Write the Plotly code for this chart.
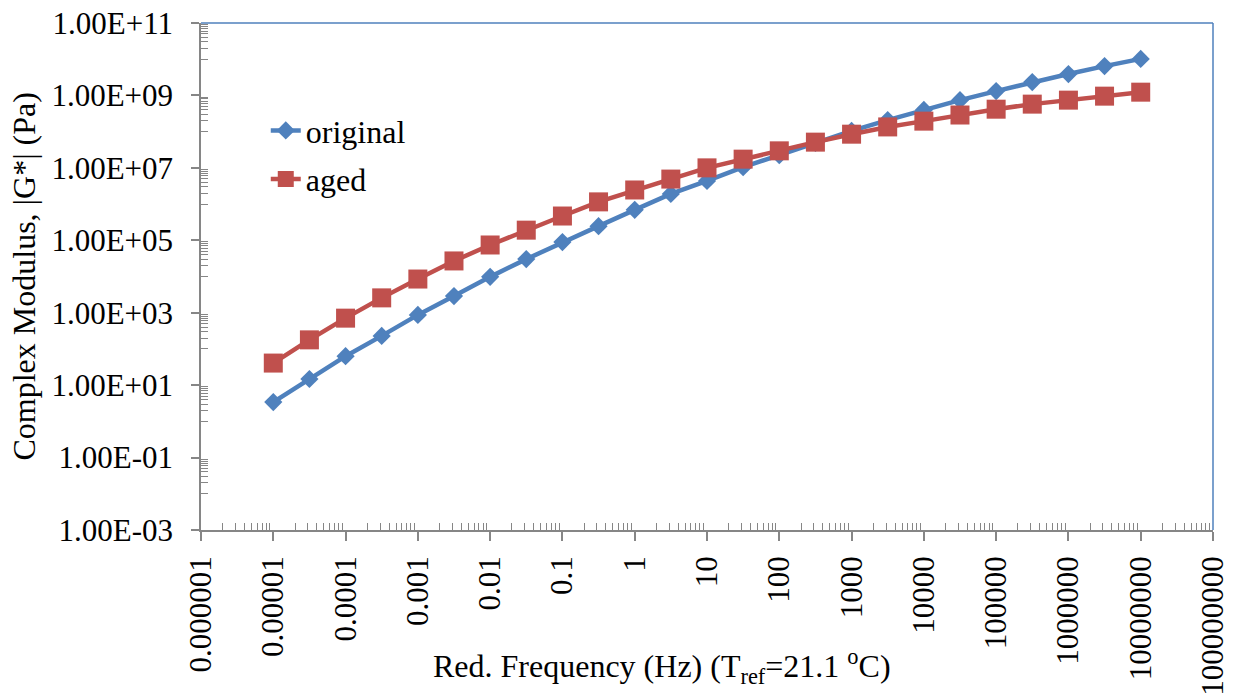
import plotly.graph_objects as go

# Reduced frequency (Hz)
freq = [1e-5, 3.16e-5, 1e-4, 3.16e-4, 1e-3, 3.16e-3, 1e-2, 3.16e-2, 1e-1, 3.16e-1,
        1, 3.16, 10, 31.6, 100, 316, 1000, 3160, 1e4, 3.16e4, 1e5, 3.16e5, 1e6, 3.16e6, 1e7]

# Complex modulus |G*| (Pa)
original = [3.4, 14.8, 63, 229, 871, 2884, 9772, 30200, 89125, 245470,
            691830, 1.905e6, 4.37e6, 1.047e7, 2.24e7, 4.9e7, 1.05e8, 2.09e8, 3.98e8, 7.4e8,
            1.32e9, 2.34e9, 3.89e9, 6.46e9, 1.02e10]
aged = [40.7, 178, 708, 2570, 8511, 26900, 74130, 190550, 467700, 1.15e6,
        2.45e6, 4.9e6, 1.0e7, 1.74e7, 2.95e7, 5.13e7, 8.51e7, 1.35e8, 1.95e8, 2.88e8,
        4.17e8, 5.75e8, 7.41e8, 9.55e8, 1.23e9]

x_tickvals = [1e-6, 1e-5, 1e-4, 1e-3, 1e-2, 1e-1, 1, 10, 100, 1e3, 1e4, 1e5, 1e6, 1e7, 1e8]
x_ticktext = ["0.000001", "0.00001", "0.0001", "0.001", "0.01", "0.1", "1", "10", "100",
              "1000", "10000", "100000", "1000000", "10000000", "100000000"]
y_tickvals = [1e-3, 1e-1, 1e1, 1e3, 1e5, 1e7, 1e9, 1e11]
y_ticktext = ["1.00E-03", "1.00E-01", "1.00E+01", "1.00E+03", "1.00E+05", "1.00E+07",
              "1.00E+09", "1.00E+11"]

x_minor = [m * 10.0 ** k for k in range(-6, 8) for m in range(2, 10)]
y_minor = [m * 10.0 ** k for k in range(-2, 11, 2) for m in range(1, 10)]

BLUE = "#4F81BD"
RED = "#C0504D"
GRAY = "#868686"
FONT = "Liberation Serif, Times New Roman, serif"
FS = 32

fig = go.Figure()
fig.add_trace(go.Scatter(x=freq, y=original, name="original", mode="lines+markers",
                         line=dict(color=BLUE, width=4.5),
                         marker=dict(symbol="diamond", size=14, color=BLUE),
                         legendgroup="a"))
fig.add_trace(go.Scatter(x=freq, y=aged, name="aged", mode="lines+markers",
                         line=dict(color=RED, width=4.5),
                         marker=dict(symbol="square", size=19, color=RED),
                         legendgroup="b"))

fig.update_layout(
    width=1226, height=688,
    margin=dict(l=193, r=21, t=15, b=166),
    paper_bgcolor="white", plot_bgcolor="white",
    font=dict(family=FONT, size=FS, color="black"),
    showlegend=True,
    legend=dict(x=0.064, y=0.842, xanchor="left", yanchor="top",
                bgcolor="rgba(0,0,0,0)", font=dict(size=FS),
                traceorder="grouped", tracegroupgap=4),
    xaxis=dict(type="log", range=[-6, 8], tickmode="array", tickvals=x_tickvals,
               ticktext=x_ticktext, tickangle=-90, ticks="outside", ticklen=9,
               tickcolor=GRAY, tickwidth=1.5, showline=True, linecolor=GRAY, linewidth=1.5,
               showgrid=False, zeroline=False, ticklabelstandoff=3, automargin=False,
               ticklabeloverflow="allow", tickfont=dict(size=31),
               minor=dict(tickmode="array", tickvals=x_minor, ticks="inside", ticklen=7,
                          tickcolor=GRAY, tickwidth=1.2, showgrid=False)),
    yaxis=dict(type="log", range=[-3, 11], tickmode="array", tickvals=y_tickvals,
               ticktext=y_ticktext, ticks="outside", ticklen=8,
               tickcolor=GRAY, tickwidth=1.5, showline=True, linecolor=GRAY, linewidth=1.5,
               showgrid=False, zeroline=False, ticklabelstandoff=12, automargin=False,
               ticklabeloverflow="allow", tickfont=dict(size=31),
               minor=dict(tickmode="array", tickvals=y_minor, ticks="inside", ticklen=7,
                          tickcolor=GRAY, tickwidth=1.2, showgrid=False)),
    shapes=[
        dict(type="line", xref="paper", yref="paper", x0=0, x1=1, y0=1, y1=1,
             line=dict(color=BLUE, width=1.5)),
        dict(type="line", xref="paper", yref="paper", x0=1, x1=1, y0=0, y1=1,
             line=dict(color=BLUE, width=1.5)),
    ],
    annotations=[
        dict(text="Red. Frequency (Hz) (T<sub>ref</sub>=21.1 <sup>o</sup>C)",
             xref="paper", yref="paper", x=(662 - 201) / 1012, y=-(666 - 530) / 507,
             xanchor="center", yanchor="middle", showarrow=False,
             font=dict(size=FS, family=FONT, color="black")),
        dict(text="Complex Modulus, |G*| (Pa)", textangle=-90,
             xref="paper", yref="paper", x=-(201 - 23) / 1012, y=0.5,
             xanchor="center", yanchor="middle", showarrow=False,
             font=dict(size=FS, family=FONT, color="black")),
    ],
)

fig.write_html("out.html")
